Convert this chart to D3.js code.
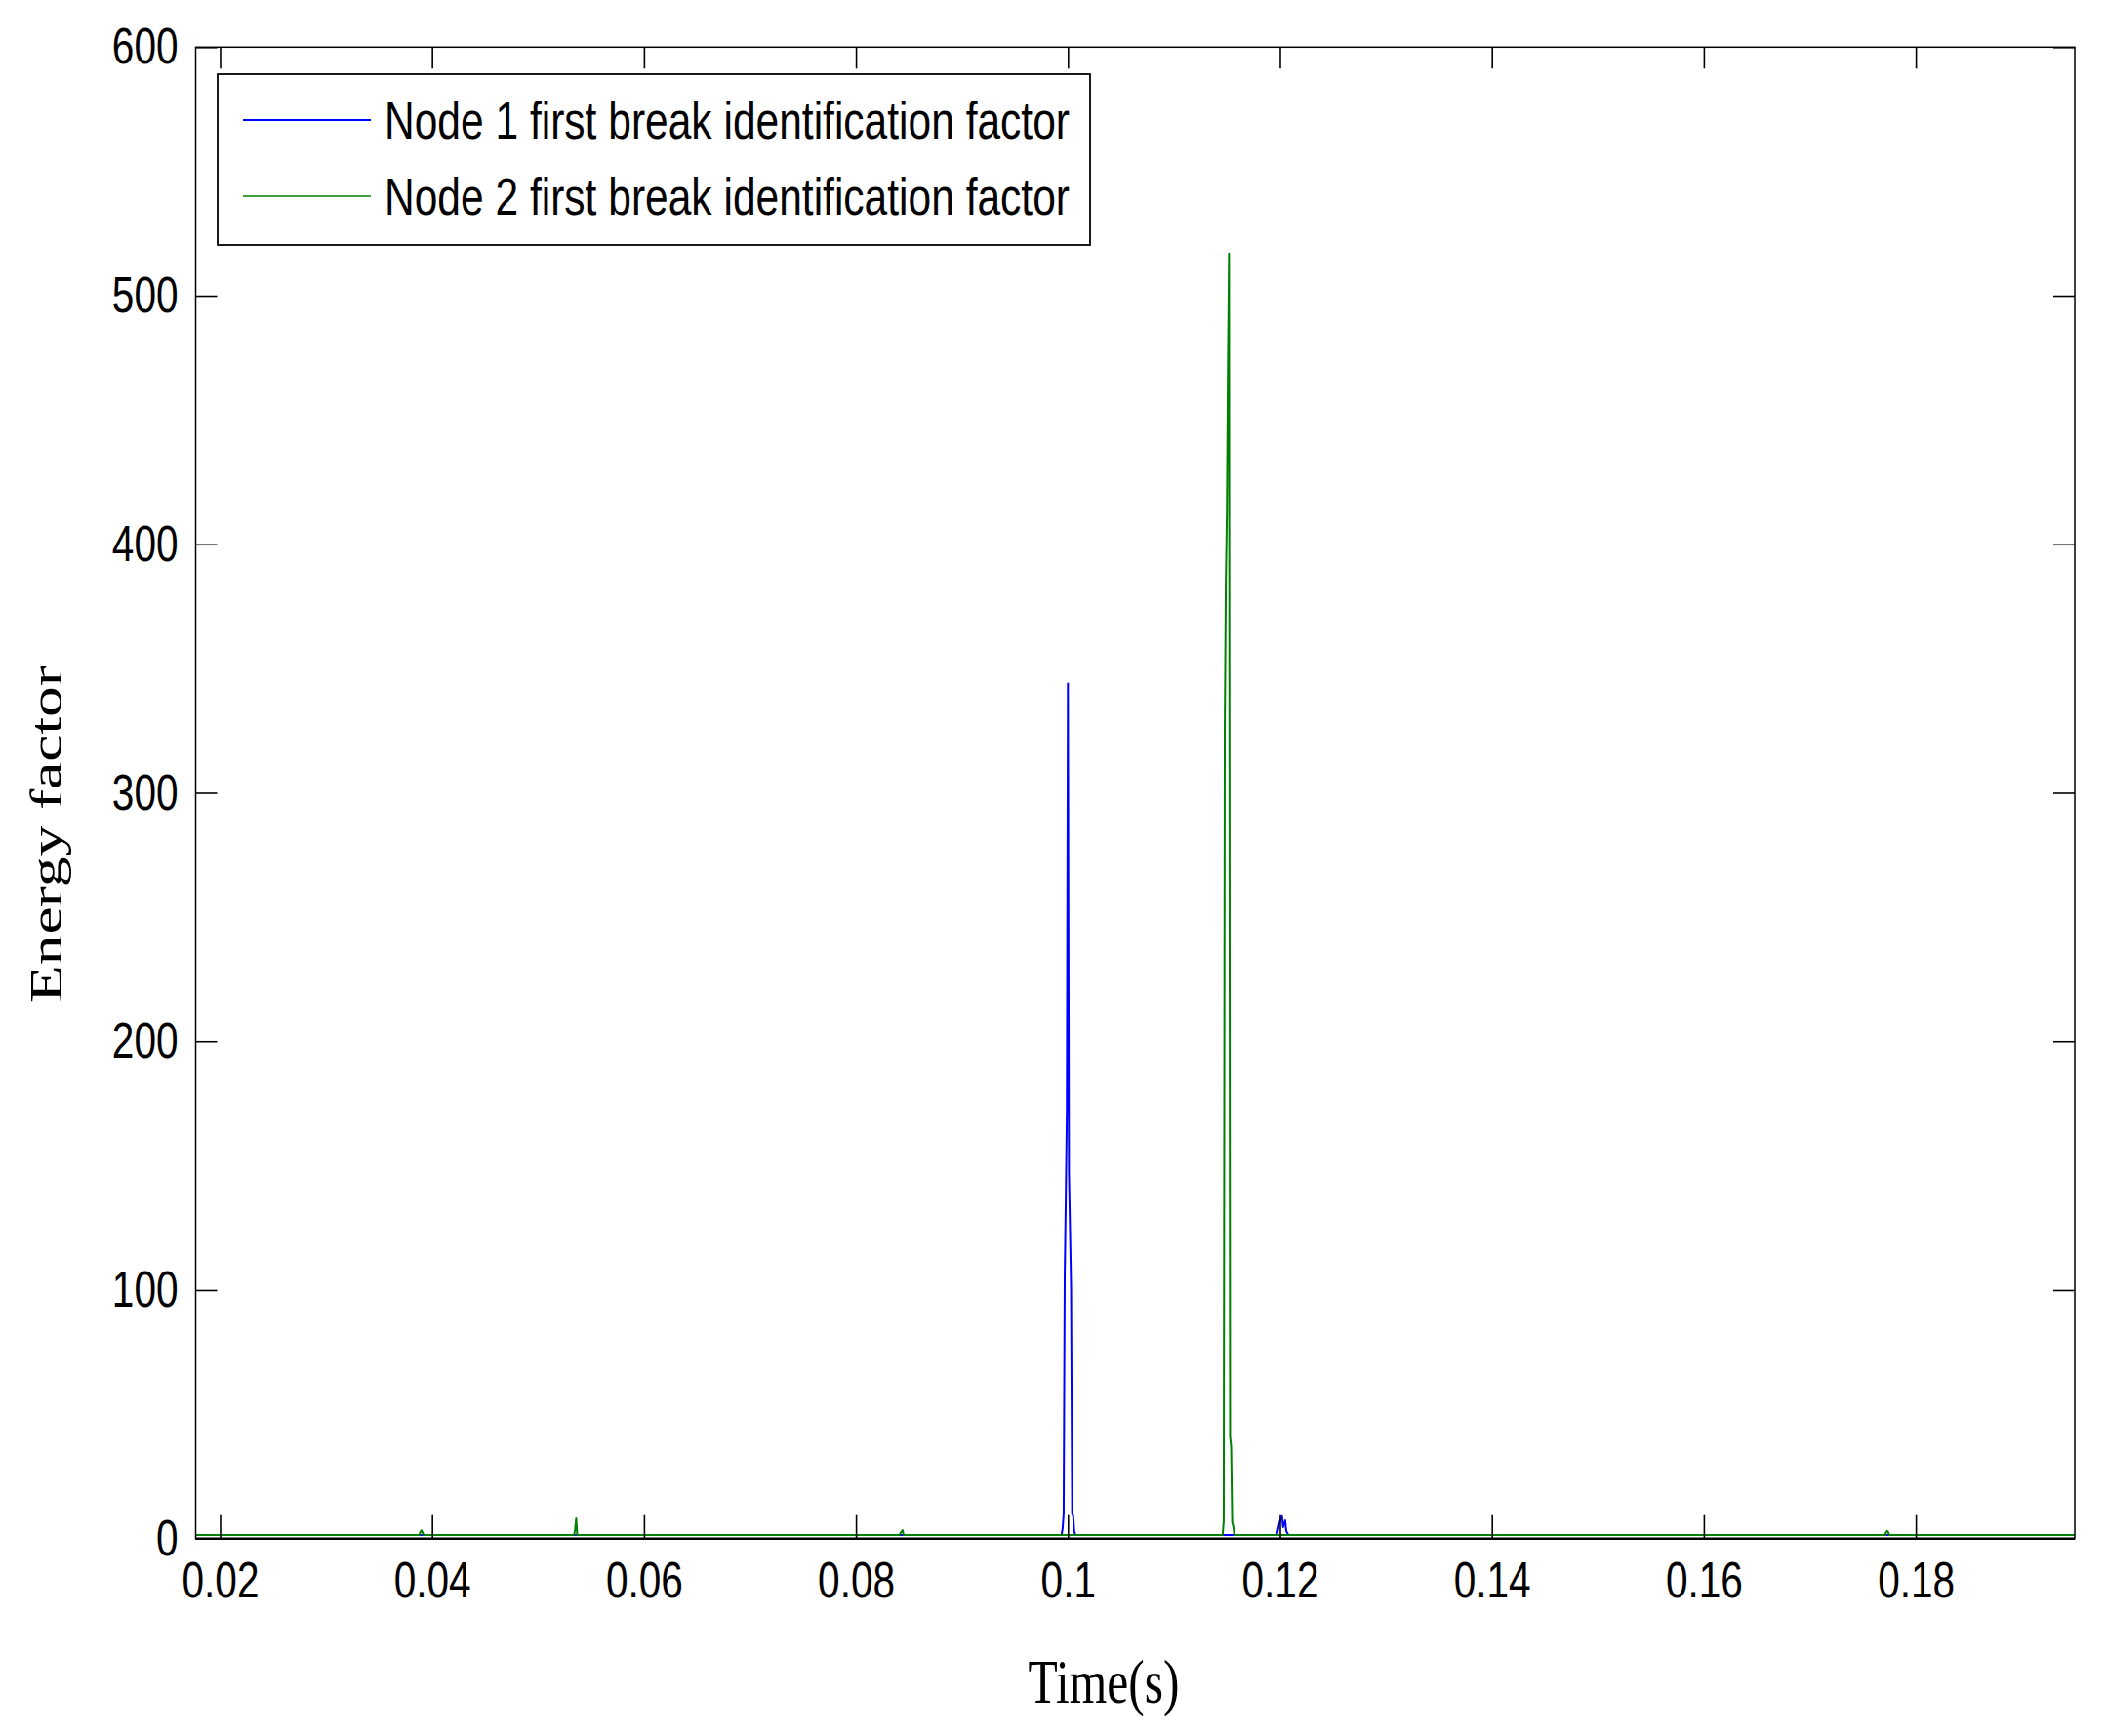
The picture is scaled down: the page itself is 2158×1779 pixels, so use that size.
<!DOCTYPE html>
<html>
<head>
<meta charset="utf-8">
<script src="https://cdn.jsdelivr.net/npm/d3@7"></script>
<style>
  body { margin: 0; background: #fff; }
  svg { display: block; }
</style>
</head>
<body>
<div id="chart"></div>
<script>
// tick values and labels
const xTicks = [0.02, 0.04, 0.06, 0.08, 0.1, 0.12, 0.14, 0.16, 0.18];
const xTickLabels = ["0.02", "0.04", "0.06", "0.08", "0.1", "0.12", "0.14", "0.16", "0.18"];
const yTicks = [0, 100, 200, 300, 400, 500, 600];

const seriesNames = ["Node 1 first break identification factor", "Node 2 first break identification factor"];

// Node 1 (blue)
const blueTime = [0.0177, 0.0994, 0.0995, 0.0996, 0.0997, 0.0998, 0.0999, 0.1000, 0.1001, 0.1002, 0.1003, 0.1004, 0.1005, 0.1006, 0.1007,
  0.1197, 0.1198, 0.1199, 0.1200, 0.1202, 0.1203, 0.1205, 0.1206, 0.1208, 0.195];
const blueValue = [1.5, 1.5, 4, 10, 106, 137, 172, 344, 147, 124, 101, 10, 9, 3, 1.5,
  1.5, 3, 5, 7, 9, 4.6, 7.3, 3, 1.5, 1.5];

// Node 2 (green)
const greenTime = [0.0177, 0.0388, 0.0389, 0.0390, 0.0391, 0.0392, 0.0534, 0.0535, 0.0536, 0.0537,
  0.0841, 0.0842, 0.0843, 0.0844, 0.0845,
  0.1146, 0.1147, 0.1148, 0.1149, 0.1150, 0.1151, 0.1152, 0.1153, 0.1154, 0.1155, 0.1156, 0.1157,
  0.1771, 0.1772, 0.1773, 0.1774, 0.1775, 0.195];
const greenValue = [1.5, 1.5, 2.6, 3.3, 2.6, 1.5, 1.5, 3.5, 8.1, 1.5,
  1.5, 2.2, 2.8, 3.4, 1.5,
  1.5, 7, 325, 384, 413, 472, 517, 41, 37, 6.5, 5, 1.5,
  1.5, 2.6, 3.1, 2.6, 1.5, 1.5];

const W = 2158, H = 1779;
const plotLeft = 200.5, plotRight = 2126, plotTop = 48.3, plotBottom = 1576.7;

const svg = d3.select("#chart").append("svg")
  .attr("width", W).attr("height", H);

const x = d3.scaleLinear().domain([0.0177, 0.195]).range([plotLeft, plotRight]);
const y = d3.scaleLinear().domain([0, 600]).range([plotBottom, plotTop]);

const sansFont = "'Liberation Sans', Arial, sans-serif";
const serifFont = "'Liberation Serif', 'Times New Roman', serif";

// squeeze the text horizontally like the original
function squeeze(sel, k) {
  sel.each(function() {
    const w = this.getComputedTextLength();
    d3.select(this).attr("textLength", w * k).attr("lengthAdjust", "spacingAndGlyphs");
  });
}

// lines
const line = d3.line()
  .x(d => x(d[0]))
  .y(d => y(d[1]));

svg.append("path")
  .datum(blueTime.map((t, i) => [t, blueValue[i]]))
  .attr("fill", "none")
  .attr("stroke", "#0000ff")
  .attr("stroke-width", 2)
  .attr("stroke-linejoin", "round")
  .attr("d", line);

svg.append("path")
  .datum(greenTime.map((t, i) => [t, greenValue[i]]))
  .attr("fill", "none")
  .attr("stroke", "#008000")
  .attr("stroke-width", 2)
  .attr("stroke-linejoin", "round")
  .attr("d", line);

// axes with inward ticks
svg.append("g")
  .attr("transform", "translate(0," + plotBottom + ")")
  .call(d3.axisBottom(x).tickValues(xTicks).tickFormat((d, i) => xTickLabels[i])
    .tickSizeInner(-24).tickSizeOuter(0).tickPadding(23));
svg.append("g")
  .attr("transform", "translate(0," + plotTop + ")")
  .call(d3.axisTop(x).tickValues(xTicks).tickFormat("").tickSizeInner(-22).tickSizeOuter(0));
svg.append("g")
  .attr("transform", "translate(" + plotLeft + ",0)")
  .call(d3.axisLeft(y).tickValues(yTicks).tickSizeInner(-22).tickSizeOuter(0).tickPadding(18));
svg.append("g")
  .attr("transform", "translate(" + plotRight + ",0)")
  .call(d3.axisRight(y).tickValues(yTicks).tickFormat("").tickSizeInner(-22).tickSizeOuter(0));

svg.selectAll(".domain").remove();
svg.selectAll(".tick line").attr("stroke", "#000").attr("stroke-width", 1.6);
svg.selectAll(".tick text")
  .attr("fill", "#000")
  .style("font-family", sansFont)
  .style("font-size", "52px");
squeeze(svg.selectAll(".tick text"), 0.78);

// box
svg.append("rect")
  .attr("x", plotLeft).attr("y", plotTop)
  .attr("width", plotRight - plotLeft).attr("height", plotBottom - plotTop)
  .attr("fill", "none").attr("stroke", "#000").attr("stroke-width", 1.5);
svg.append("line")
  .attr("x1", plotLeft).attr("x2", plotRight).attr("y1", plotBottom).attr("y2", plotBottom)
  .attr("stroke", "#000").attr("stroke-width", 2.5);

// axis titles
svg.append("text")
  .attr("x", 1131).attr("y", 1745)
  .attr("text-anchor", "middle")
  .style("font-family", serifFont)
  .style("font-size", "63px")
  .attr("textLength", 155).attr("lengthAdjust", "spacingAndGlyphs")
  .text("Time(s)");

svg.append("text")
  .attr("transform", "translate(63,855) rotate(-90)")
  .attr("text-anchor", "middle")
  .style("font-family", serifFont)
  .style("font-size", "47px")
  .attr("textLength", 346).attr("lengthAdjust", "spacingAndGlyphs")
  .text("Energy factor");

// legend
const legend = svg.append("g");
legend.append("rect")
  .attr("x", 223).attr("y", 76).attr("width", 894).attr("height", 175)
  .attr("fill", "#fff").attr("stroke", "#000").attr("stroke-width", 1.8);
const legendColors = ["#0000ff", "#008000"];
const legendWidths = [2, 1.5];
seriesNames.forEach((name, i) => {
  const ly = 123 + i * 78;
  legend.append("line")
    .attr("x1", 249).attr("x2", 380).attr("y1", ly).attr("y2", ly)
    .attr("stroke", legendColors[i]).attr("stroke-width", legendWidths[i]);
  legend.append("text")
    .attr("x", 394).attr("y", ly + 19)
    .style("font-family", sansFont)
    .style("font-size", "54px")
    .attr("textLength", 702).attr("lengthAdjust", "spacingAndGlyphs")
    .text(name);
});
</script>
</body>
</html>
